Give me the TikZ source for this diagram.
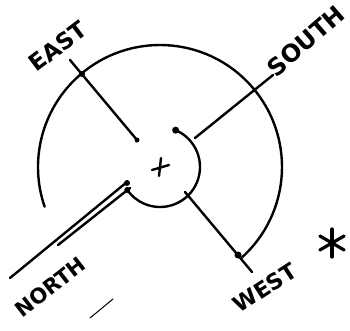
\documentclass[tikz,border=0pt]{standalone}
\usepackage{fontspec}
\setmainfont{DejaVu Sans}
\usetikzlibrary{calc}
\begin{document}
\begin{tikzpicture}[x=1pt,y=1pt,
  ink/.style={line width=2.4pt,line cap=round,black},
  lbl/.style={font=\bfseries,inner sep=0pt},
  blob/.style={circle,fill=black,inner sep=0pt,minimum size=6pt}]
\useasboundingbox (0,0) rectangle (350,330);
\coordinate (c) at (160,163);
% arcs
\draw[ink] ($(c)+(-48:122)$) arc[start angle=-48,end angle=199,radius=122];
\draw[ink] ($(c)+(67:40)$) coordinate (ia) arc[start angle=67,end angle=-145,radius=40] coordinate (ib);
\node[blob,minimum size=7pt] at (ia) {};
\node[blob] at (ib) {};
% plus
\draw[ink] (152,160) -- (169,165) (159,154) -- (161,172);
% lines
\coordinate (e1) at (70,270); \coordinate (e2) at (137,190);
\draw[ink] (e1) -- (e2);
\node[blob,minimum size=5pt] at (e2) {};
\node[blob] at (82,256) {};
\coordinate (s1) at (195,192); \coordinate (s2) at (273,255);
\draw[ink] (s1) -- (s2);
\coordinate (w1) at (185,138); \coordinate (w2) at (252,58);
\draw[ink] (w1) -- (w2);
\node[blob,minimum size=7pt] at (238,75) {};
\coordinate (n1) at (127,148); \coordinate (n2) at (10,52);
\coordinate (m1) at (130,142); \coordinate (m2) at (58,85);
\draw[ink] (n1) -- (n2);
\draw[ink] (m1) -- (m2);
\node[blob] at (127,147) {};
% labels
\node[lbl,font=\bfseries\fontsize{23}{23}\selectfont,rotate=37] (east) at (58,284) {EAST};
\node[lbl,font=\bfseries\fontsize{24}{24}\selectfont,rotate=41] (south) at (306,289) {SOUTH};
\node[lbl,font=\bfseries\fontsize{21}{21}\selectfont,rotate=38] (north) at (50,43) {NORTH};
\node[lbl,font=\bfseries\fontsize{22}{22}\selectfont,rotate=33] (west) at (265,42) {WEST};
% asterisk
\begin{scope}[shift={(332,87)}]
\foreach \a in {90,150,210,270,330,30} \draw[line width=3.2pt,line cap=round] (0,0) -- (\a:14);
\end{scope}
% stray stroke
\draw[line width=1pt,line cap=round] (113,31) -- (90,12);
\end{tikzpicture}
\end{document}
